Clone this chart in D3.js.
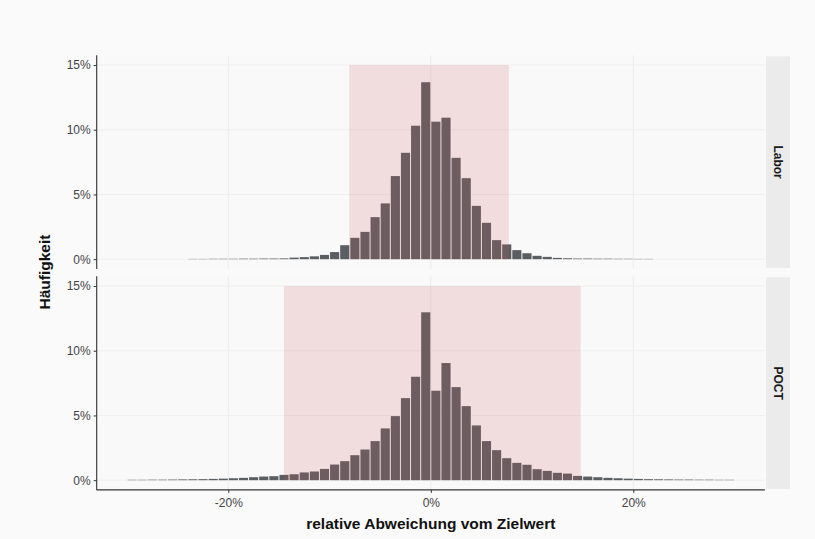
<!DOCTYPE html>
<html>
<head>
<meta charset="utf-8">
<script src="https://cdn.jsdelivr.net/npm/d3@7"></script>
<style>
  body { margin: 0; background: #fafafa; }
  svg { display: block; font-family: "Liberation Sans", Arial, sans-serif; }
</style>
</head>
<body>
<div class="chart"></div>
<script>
const width = 815;
const height = 539;

// lower edge of each 1%-bin
const BINS = [-30, -29, -28, -27, -26, -25, -24, -23, -22, -21, -20, -19, -18, -17, -16, -15, -14, -13, -12, -11,
    -10, -9, -8, -7, -6, -5, -4, -3, -2, -1, 0, 1, 2, 3, 4, 5, 6, 7, 8, 9,
    10, 11, 12, 13, 14, 15, 16, 17, 18, 19, 20, 21, 22, 23, 24, 25, 26, 27, 28, 29];

const LABOR = [0, 0, 0, 0, 0, 0, 0.02, 0.02, 0.03, 0.03, 0.03, 0.04, 0.04, 0.05, 0.05, 0.06, 0.12, 0.16, 0.22, 0.33,
    0.55, 1.08, 1.65, 2.11, 3.25, 4.31, 6.42, 8.22, 10.31, 13.67, 10.62, 10.93, 7.83, 6.26, 4.12, 2.81, 1.47, 1.14, 0.70, 0.46,
    0.26, 0.18, 0.1, 0.07, 0.05, 0.05, 0.04, 0.04, 0.03, 0.03, 0.02, 0.02, 0, 0, 0, 0, 0, 0, 0, 0];

const POCT = [0.03, 0.03, 0.04, 0.04, 0.05, 0.06, 0.07, 0.08, 0.1, 0.12, 0.15, 0.18, 0.23, 0.28, 0.31, 0.41, 0.46, 0.6, 0.67, 0.87,
    1.21, 1.47, 1.93, 2.37, 3.02, 4.0, 4.95, 6.34, 7.99, 12.97, 6.91, 9.05, 7.19, 5.72, 4.23, 3.02, 2.32, 1.70, 1.34, 1.19,
    0.85, 0.72, 0.57, 0.51, 0.33, 0.28, 0.23, 0.18, 0.15, 0.12, 0.1, 0.08, 0.07, 0.06, 0.05, 0.05, 0.04, 0.04, 0.03, 0.03];

const PANELS = ["Labor", "POCT"];
// shaded target range per panel [xmin, xmax, ymax]
const RANGE_LABOR = [-8.05, 7.7, 15];
const RANGE_POCT = [-14.5, 14.8, 15];

const X_TICKS = [-20, 0, 20];
const Y_TICKS = [0, 5, 10, 15];

const left = 96.7, right = 764.9;
const panelTops = [55.3, 276.3];
const panelH = 213.6;

const svg = d3.select(".chart").append("svg").attr("width", width).attr("height", height);
svg.append("rect").attr("width", width).attr("height", height).attr("fill", "#fafafa");

const x = d3.scaleLinear().domain([-33, 33]).range([left, right]);
const fmt = d => d + "%";

const datasets = [LABOR, POCT];
const ranges = [RANGE_LABOR, RANGE_POCT];

PANELS.forEach((name, i) => {
    const top = panelTops[i];
    const y = d3.scaleLinear().domain([-0.75, 15.75]).range([top + panelH, top]);
    const g = svg.append("g");

    g.append("rect").attr("x", left).attr("y", top).attr("width", right - left).attr("height", panelH)
        .attr("fill", "#f9f9f9");

    // grid
    g.selectAll(".gx").data(X_TICKS).enter().append("line")
        .attr("x1", d => x(d)).attr("x2", d => x(d)).attr("y1", top).attr("y2", top + panelH)
        .attr("stroke", "#ececec").attr("stroke-width", 1);
    g.selectAll(".gy").data(Y_TICKS).enter().append("line")
        .attr("x1", left).attr("x2", right).attr("y1", d => y(d)).attr("y2", d => y(d))
        .attr("stroke", "#efefef").attr("stroke-width", 1);

    // bars
    const vals = datasets[i];
    g.selectAll(".bar").data(BINS.map((b, k) => ({ b: b, v: vals[k] })).filter(d => d.v > 0))
        .enter().append("rect")
        .attr("x", d => x(d.b) + 0.5)
        .attr("width", d => x(d.b + 1) - x(d.b) - 1)
        .attr("y", d => y(d.v))
        .attr("height", d => y(0) - y(d.v))
        .attr("fill", "#5a5d61");

    // target range overlay
    const r = ranges[i];
    g.append("rect")
        .attr("x", x(r[0])).attr("width", x(r[1]) - x(r[0]))
        .attr("y", y(r[2])).attr("height", y(0) - y(r[2]))
        .attr("fill", "indianred").attr("fill-opacity", 0.18);

    // y axis
    const ay = g.append("g").attr("transform", `translate(${left},0)`)
        .call(d3.axisLeft(y).tickValues(Y_TICKS).tickFormat(fmt).tickSize(3).tickPadding(3));
    ay.select(".domain").attr("stroke", "#333").attr("stroke-width", 1.1).attr("d", `M0,${top}V${top + panelH}`);
    ay.selectAll(".tick line").attr("stroke", "#333");
    ay.selectAll(".tick text").attr("fill", "#444").style("font-size", "12px");

    // strip
    const s = svg.append("g");
    s.append("rect").attr("x", 766).attr("y", top + 1).attr("width", 24).attr("height", panelH - 2)
        .attr("fill", "#ebebeb");
    s.append("text").attr("transform", `translate(${778},${top + panelH / 2}) rotate(90)`)
        .attr("text-anchor", "middle").attr("dy", "0.35em")
        .style("font-size", "12px").style("font-weight", "bold").attr("fill", "#1a1a1a")
        .text(name);
});

// x axis
const bottom = panelTops[1] + panelH;
const ax = svg.append("g").attr("transform", `translate(0,${bottom})`)
    .call(d3.axisBottom(x).tickValues(X_TICKS).tickFormat(fmt).tickSize(3).tickPadding(6));
ax.select(".domain").attr("stroke", "#333").attr("stroke-width", 1.1).attr("d", `M${left},0H${right}`);
ax.selectAll(".tick line").attr("stroke", "#333");
ax.selectAll(".tick text").attr("fill", "#444").style("font-size", "12px");

svg.append("text").attr("x", x(0)).attr("y", 529).attr("text-anchor", "middle")
    .style("font-size", "15.5px").style("font-weight", "bold").attr("fill", "#111")
    .text("relative Abweichung vom Zielwert");

svg.append("text").attr("transform", `translate(50,272) rotate(-90)`).attr("text-anchor", "middle")
    .style("font-size", "15.5px").style("font-weight", "bold").attr("fill", "#111")
    .text("Häufigkeit");
</script>
</body>
</html>
